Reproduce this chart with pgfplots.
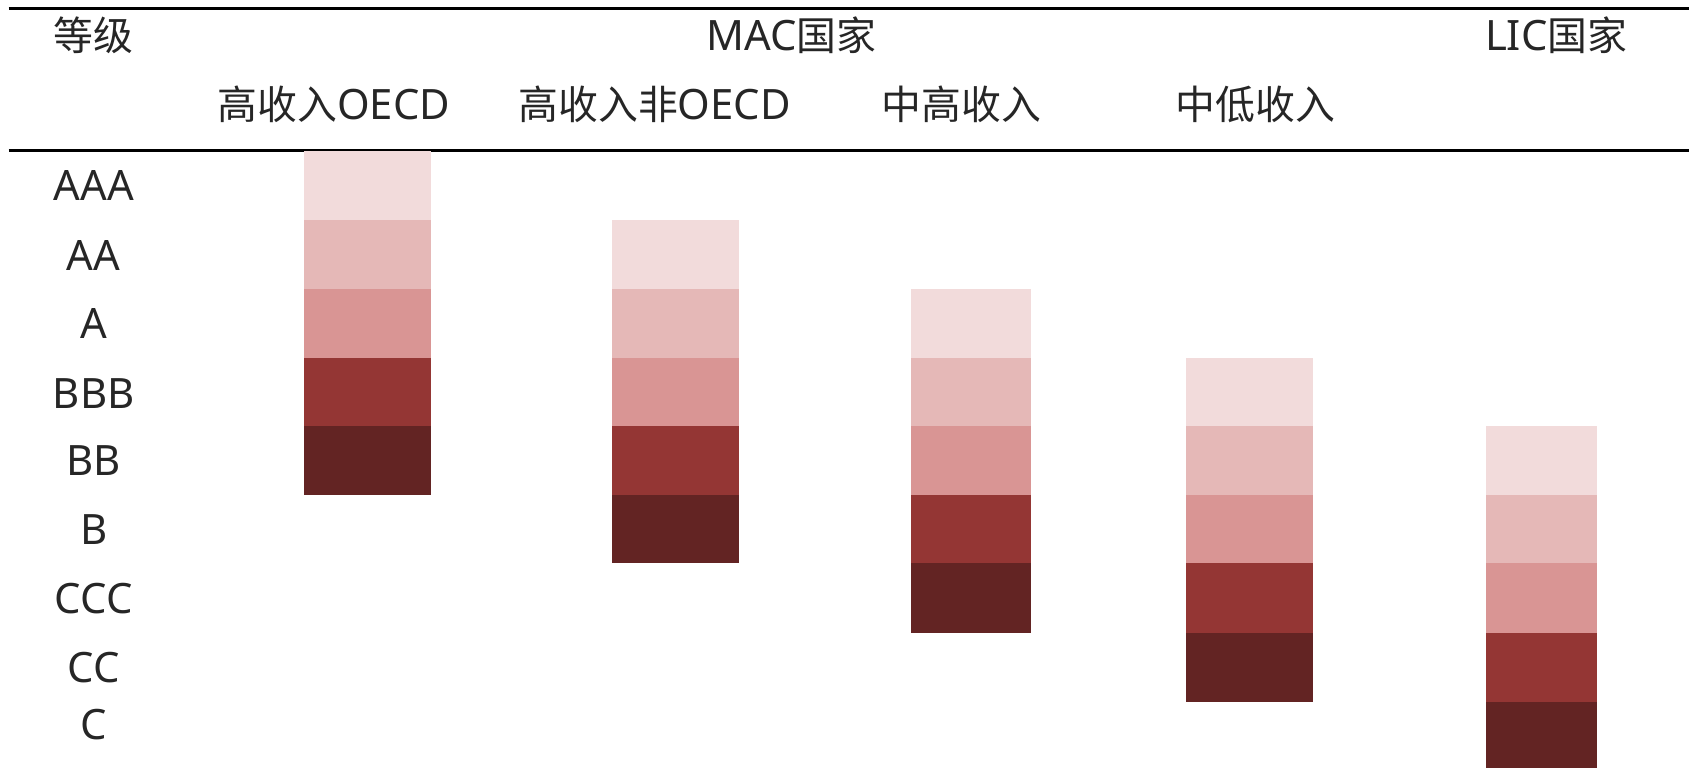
\documentclass[border=0pt]{standalone}
\usepackage{fontspec}
\setmainfont[Scale=1.05]{Noto Sans}
\newfontfamily\cjk{Noto Sans CJK SC}
\usepackage{pgfplots}
\pgfplotsset{compat=1.18}
\definecolor{s1}{HTML}{F2DBDB}
\definecolor{s2}{HTML}{E5B8B7}
\definecolor{s3}{HTML}{D99594}
\definecolor{s4}{HTML}{943634}
\definecolor{s5}{HTML}{632423}
\definecolor{txt}{HTML}{262626}
\tikzset{lab/.style={font=\fontsize{11.1}{13}\selectfont, text=txt}}
\begin{document}
\begin{tikzpicture}
\begin{axis}[
  scale only axis,
  width=470.4pt, height=213.9pt,
  xmin=0, xmax=1568, ymin=0, ymax=713,
  y dir=reverse,
  hide axis, clip=false,
]
% frame of the picture
\addplot[draw=none] coordinates {(0,0) (1568,713)};
% rules of the table
\addplot[black, line width=0.8pt] coordinates {(8,8) (1568,8)};
\addplot[black, line width=0.8pt] coordinates {(8,140) (1568,140)};

% 高收入OECD: AAA - BB
\addplot[fill=s1, draw=none] coordinates {(282,140) (400,140) (400,204) (282,204)};
\addplot[fill=s2, draw=none] coordinates {(282,204) (400,204) (400,268) (282,268)};
\addplot[fill=s3, draw=none] coordinates {(282,268) (400,268) (400,332) (282,332)};
\addplot[fill=s4, draw=none] coordinates {(282,332) (400,332) (400,396) (282,396)};
\addplot[fill=s5, draw=none] coordinates {(282,396) (400,396) (400,460) (282,460)};
% 高收入非OECD: AA - B
\addplot[fill=s1, draw=none] coordinates {(568,204) (686,204) (686,268) (568,268)};
\addplot[fill=s2, draw=none] coordinates {(568,268) (686,268) (686,332) (568,332)};
\addplot[fill=s3, draw=none] coordinates {(568,332) (686,332) (686,396) (568,396)};
\addplot[fill=s4, draw=none] coordinates {(568,396) (686,396) (686,460) (568,460)};
\addplot[fill=s5, draw=none] coordinates {(568,460) (686,460) (686,523) (568,523)};
% 中高收入: A - CCC
\addplot[fill=s1, draw=none] coordinates {(846,268) (957,268) (957,332) (846,332)};
\addplot[fill=s2, draw=none] coordinates {(846,332) (957,332) (957,396) (846,396)};
\addplot[fill=s3, draw=none] coordinates {(846,396) (957,396) (957,460) (846,460)};
\addplot[fill=s4, draw=none] coordinates {(846,460) (957,460) (957,523) (846,523)};
\addplot[fill=s5, draw=none] coordinates {(846,523) (957,523) (957,588) (846,588)};
% 中低收入: BBB - CC
\addplot[fill=s1, draw=none] coordinates {(1101,332) (1219,332) (1219,396) (1101,396)};
\addplot[fill=s2, draw=none] coordinates {(1101,396) (1219,396) (1219,460) (1101,460)};
\addplot[fill=s3, draw=none] coordinates {(1101,460) (1219,460) (1219,523) (1101,523)};
\addplot[fill=s4, draw=none] coordinates {(1101,523) (1219,523) (1219,588) (1101,588)};
\addplot[fill=s5, draw=none] coordinates {(1101,588) (1219,588) (1219,652) (1101,652)};
% LIC: BB - C
\addplot[fill=s1, draw=none] coordinates {(1380,396) (1483,396) (1483,460) (1380,460)};
\addplot[fill=s2, draw=none] coordinates {(1380,460) (1483,460) (1483,523) (1380,523)};
\addplot[fill=s3, draw=none] coordinates {(1380,523) (1483,523) (1483,588) (1380,588)};
\addplot[fill=s4, draw=none] coordinates {(1380,588) (1483,588) (1483,652) (1380,652)};
\addplot[fill=s5, draw=none] coordinates {(1380,652) (1483,652) (1483,713) (1380,713)};

% header
\node[lab] at (87,33) {\cjk 等级};
\node[lab] at (735,33) {MAC{\cjk 国家}};
\node[lab] at (1445,33) {LIC{\cjk 国家}};
\node[lab] at (310,97) {{\cjk 高收入}OECD};
\node[lab] at (608,97) {{\cjk 高收入非}OECD};
\node[lab] at (893,97) {\cjk 中高收入};
\node[lab] at (1166,97) {\cjk 中低收入};

% ratings
\node[lab] at (87,172) {AAA};
\node[lab] at (87,237) {AA};
\node[lab] at (87,300) {A};
\node[lab] at (87,365) {BBB};
\node[lab] at (87,428) {BB};
\node[lab] at (87,492) {B};
\node[lab] at (87,556) {CCC};
\node[lab] at (87,620) {CC};
\node[lab] at (87,673) {C};
\end{axis}
\end{tikzpicture}
\end{document}
